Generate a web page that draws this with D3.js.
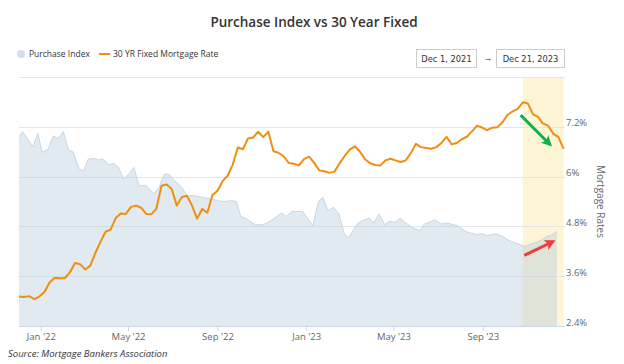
<!DOCTYPE html>
<html>
<head>
<meta charset="utf-8">
<script src="https://cdn.jsdelivr.net/npm/d3@7"></script>
<style>
  body { margin: 0; background: #fff; }
  text { font-family: "Open Sans", sans-serif; }
</style>
</head>
<body>
<svg id="chart" width="624" height="364"></svg>
<script>
// 30 yr fixed rate, weekly (Thursdays) starting Dec 2, 2021
var rateStart = "2021-12-02";
var rateValues = [
  3.11, 3.10, 3.12, 3.05, 3.11,
  3.22, 3.45, 3.56, 3.55, 3.55, 3.69, 3.92, 3.89, 3.76, 3.85, 4.16, 4.42, 4.67,
  4.72, 5.00, 5.11, 5.10, 5.27, 5.30, 5.25, 5.10, 5.09, 5.23, 5.78, 5.81, 5.70,
  5.30, 5.51, 5.54, 5.30, 4.99, 5.22, 5.13, 5.55, 5.66, 5.89, 6.02, 6.29, 6.70,
  6.66, 6.92, 6.94, 7.08, 6.95, 7.08, 6.61, 6.58, 6.49, 6.33, 6.31, 6.27, 6.42,
  6.48, 6.33, 6.15, 6.13, 6.09, 6.12, 6.32, 6.50, 6.65, 6.73, 6.60, 6.42, 6.32,
  6.28, 6.27, 6.39, 6.43, 6.39, 6.35, 6.39, 6.57, 6.79, 6.71, 6.69, 6.67, 6.71,
  6.81, 6.96, 6.78, 6.81, 6.90, 6.96, 7.09, 7.23, 7.18, 7.12, 7.18, 7.19, 7.31,
  7.49, 7.57, 7.63, 7.79, 7.76, 7.50, 7.44, 7.29, 7.22, 7.03, 6.95, 6.67
];

// purchase index
var purchaseDates = [
  "2021-12-02", "2021-12-07", "2021-12-21", "2021-12-28", "2022-01-03", "2022-01-11",
  "2022-01-18", "2022-01-25", "2022-02-01", "2022-02-08", "2022-02-14", "2022-02-23",
  "2022-03-01", "2022-03-07", "2022-03-15", "2022-03-21", "2022-03-28", "2022-04-05",
  "2022-04-11", "2022-04-18", "2022-04-25", "2022-05-03", "2022-05-09", "2022-05-16",
  "2022-05-26", "2022-06-06", "2022-06-13", "2022-06-20", "2022-06-26", "2022-07-04",
  "2022-07-13", "2022-07-21", "2022-07-31", "2022-08-11", "2022-08-23", "2022-09-01",
  "2022-09-10", "2022-09-19", "2022-09-27", "2022-10-03", "2022-10-11", "2022-10-23",
  "2022-11-02", "2022-11-08", "2022-11-19", "2022-11-28", "2022-12-05", "2022-12-12",
  "2022-12-27", "2023-01-06", "2023-01-10", "2023-01-18", "2023-01-24", "2023-01-31",
  "2023-02-08", "2023-02-15", "2023-02-22", "2023-02-28", "2023-03-13", "2023-03-20",
  "2023-03-29", "2023-04-04", "2023-04-11", "2023-04-19", "2023-04-25", "2023-05-03",
  "2023-05-10", "2023-05-18", "2023-05-28", "2023-06-06", "2023-06-13", "2023-06-22",
  "2023-06-27", "2023-07-05", "2023-07-14", "2023-07-23", "2023-07-30", "2023-08-08",
  "2023-08-15", "2023-08-24", "2023-08-31", "2023-09-07", "2023-09-19", "2023-09-28",
  "2023-10-07", "2023-10-16", "2023-10-29", "2023-11-10", "2023-11-22", "2023-11-28",
  "2023-12-05", "2023-12-12"
];
var purchaseIndex = [
  268, 274, 256, 272, 249, 253, 269, 266, 274, 252, 250, 229,
  227, 241, 242, 240, 241, 234, 236, 231, 217, 224, 231, 209,
  209, 199, 208, 223, 223, 215, 208, 197, 197, 195, 193, 191,
  190, 191, 190, 172, 169, 162, 162, 164, 170, 176, 172, 178,
  178, 166, 161, 190, 195, 179, 183, 175, 152, 146, 164, 167,
  170, 164, 175, 162, 166, 165, 170, 164, 158, 155, 163, 166,
  168, 163, 164, 162, 160, 154, 152, 150, 151, 149, 151, 148,
  143, 140, 136, 140, 144, 148, 150, 154
];

var rateTicks = [2.4, 3.6, 4.8, 6, 7.2, 8.4];
var monthTicks = ["2022-01-01", "2022-05-01", "2022-09-01", "2023-01-01", "2023-05-01", "2023-09-01"];
var highlight = ["2023-10-26", "2023-12-21"];
var rangeLabels = ["Dec 1, 2021", "Dec 21, 2023"];

var parse = d3.timeParse("%Y-%m-%d");
var svg = d3.select("#chart");

var plotLeft = 19, plotRight = 565, plotTop = 77, plotBottom = 326;

var x = d3.scaleTime()
    .domain([parse("2021-12-02"), parse("2023-12-23")])
    .range([plotLeft, plotRight]);
var yRate = d3.scaleLinear().domain([2.4, 8.4]).range([plotBottom, plotTop]);
var yIdx = d3.scaleLinear().domain([40, 340]).range([plotBottom, plotTop]);

var rates = rateValues.map(function (v, i) {
    var d = d3.timeDay.offset(parse(rateStart), i * 7);
    // thanksgiving weeks came out on wednesday
    if (d.getMonth() === 10 && d.getDate() >= 22 && d.getDate() <= 28) d = d3.timeDay.offset(d, -1);
    return { date: d, value: v };
});
var purchase = purchaseDates.map(function (d, i) {
    return { date: parse(d), value: purchaseIndex[i] };
});

// title
svg.append("text")
    .attr("x", 314).attr("y", 26.5)
    .attr("text-anchor", "middle")
    .attr("font-size", 13.5).attr("font-weight", 600)
    .attr("fill", "#333")
    .text("Purchase Index vs 30 Year Fixed");

// legend
svg.append("circle").attr("cx", 21).attr("cy", 54).attr("r", 4).attr("fill", "#d3dee8");
svg.append("text").attr("x", 29).attr("y", 57).attr("font-size", 8.5).attr("fill", "#333")
    .text("Purchase Index");
svg.append("line").attr("x1", 99).attr("x2", 110).attr("y1", 54).attr("y2", 54)
    .attr("stroke", "#ef8f12").attr("stroke-width", 2);
svg.append("text").attr("x", 113).attr("y", 57).attr("font-size", 8.5).attr("fill", "#333")
    .text("30 YR Fixed Mortgage Rate");

// date range boxes
var boxes = [{ x: 416, w: 60 }, { x: 496, w: 68 }];
boxes.forEach(function (b, i) {
    svg.append("rect").attr("x", b.x + 0.5).attr("y", 49.5).attr("width", b.w).attr("height", 18)
        .attr("fill", "#fff").attr("stroke", "#cccccc");
    svg.append("text").attr("x", b.x + b.w / 2 + 0.5).attr("y", 61.5)
        .attr("text-anchor", "middle")
        .attr("font-size", 8.3).attr("fill", "#333")
        .style("font-family", "DejaVu Sans")
        .text(rangeLabels[i]);
});
svg.append("text").attr("x", 488).attr("y", 61).attr("text-anchor", "middle")
    .attr("font-size", 9).attr("fill", "#333").text("\u2192");

// highlight band
svg.append("rect")
    .attr("x", x(parse(highlight[0]))).attr("y", plotTop)
    .attr("width", x(parse(highlight[1])) - x(parse(highlight[0])))
    .attr("height", plotBottom - plotTop)
    .attr("fill", "#fef5d6");

// gridlines
svg.append("g").selectAll("line").data(rateTicks).join("line")
    .attr("x1", plotLeft).attr("x2", plotRight)
    .attr("y1", function (d) { return Math.round(yRate(d)) + 0.5; })
    .attr("y2", function (d) { return Math.round(yRate(d)) + 0.5; })
    .attr("stroke", "#e6e6e6");

// purchase index area
var area = d3.area()
    .x(function (d) { return x(d.date); })
    .y0(plotBottom)
    .y1(function (d) { return yIdx(d.value); });
svg.append("path").datum(purchase)
    .attr("d", area)
    .attr("fill", "#b3c9db").attr("fill-opacity", 0.4);
svg.append("path").datum(purchase)
    .attr("d", area.lineY1())
    .attr("fill", "none").attr("stroke", "#c8d7e4").attr("stroke-width", 1);

// rate line
var line = d3.line()
    .x(function (d) { return x(d.date); })
    .y(function (d) { return yRate(d.value); });
svg.append("path").datum(rates)
    .attr("d", line)
    .attr("fill", "none").attr("stroke", "#ef8f12").attr("stroke-width", 2)
    .attr("stroke-linejoin", "round");

// right axis labels
svg.append("g").selectAll("text").data(rateTicks.slice(0, 5)).join("text")
    .attr("x", 566).attr("y", function (d) { return yRate(d) - 0.5; })
    .attr("font-size", 9.5).attr("fill", "#666")
    .text(function (d) { return d + "%"; });
svg.append("text")
    .attr("transform", "translate(597," + ((plotTop + plotBottom) / 2) + ") rotate(90)")
    .attr("text-anchor", "middle")
    .attr("font-size", 10).attr("fill", "#666")
    .text("Mortgage Rates");

// x axis
var xAxis = d3.axisBottom(x)
    .tickValues(monthTicks.map(parse))
    .tickFormat(d3.timeFormat("%b '%y"))
    .tickSize(5).tickPadding(2);
var gx = svg.append("g").attr("transform", "translate(0," + plotBottom + ")").call(xAxis);
gx.select(".domain").attr("stroke", "#ccd6eb").attr("d", "M" + plotLeft + ",0.5H" + plotRight);
gx.selectAll(".tick line").attr("stroke", "#ccd6eb");
gx.selectAll(".tick text").attr("font-size", 9.5).attr("fill", "#666")
    .attr("font-family", "Open Sans, sans-serif");

// annotation arrows
var defs = svg.append("defs");
[["g", "#12b04b"], ["r", "#ee3b3b"]].forEach(function (m) {
    defs.append("marker").attr("id", "arrow-" + m[0])
        .attr("viewBox", "0 0 10 10").attr("refX", 7).attr("refY", 5)
        .attr("markerWidth", 3.6).attr("markerHeight", 3.6).attr("orient", "auto")
        .append("path").attr("d", "M0,0L10,5L0,10L2.5,5z").attr("fill", m[1]);
});
var arrows = [
    { from: ["2023-10-23", 7.48], to: ["2023-12-02", 6.78], color: "#12b04b", id: "g" },
    { from: ["2023-10-28", 4.1], to: ["2023-12-06", 4.43], color: "#ee3b3b", id: "r" }
];
arrows.forEach(function (a) {
    svg.append("line")
        .attr("x1", x(parse(a.from[0]))).attr("y1", yRate(a.from[1]))
        .attr("x2", x(parse(a.to[0]))).attr("y2", yRate(a.to[1]))
        .attr("stroke", a.color).attr("stroke-width", 3)
        .attr("marker-end", "url(#arrow-" + a.id + ")");
});

// source note
svg.append("text").attr("x", 8).attr("y", 356.5)
    .attr("font-size", 9.5).attr("font-style", "italic").attr("fill", "#333")
    .text("Source: Mortgage Bankers Association");
</script>
</body>
</html>
